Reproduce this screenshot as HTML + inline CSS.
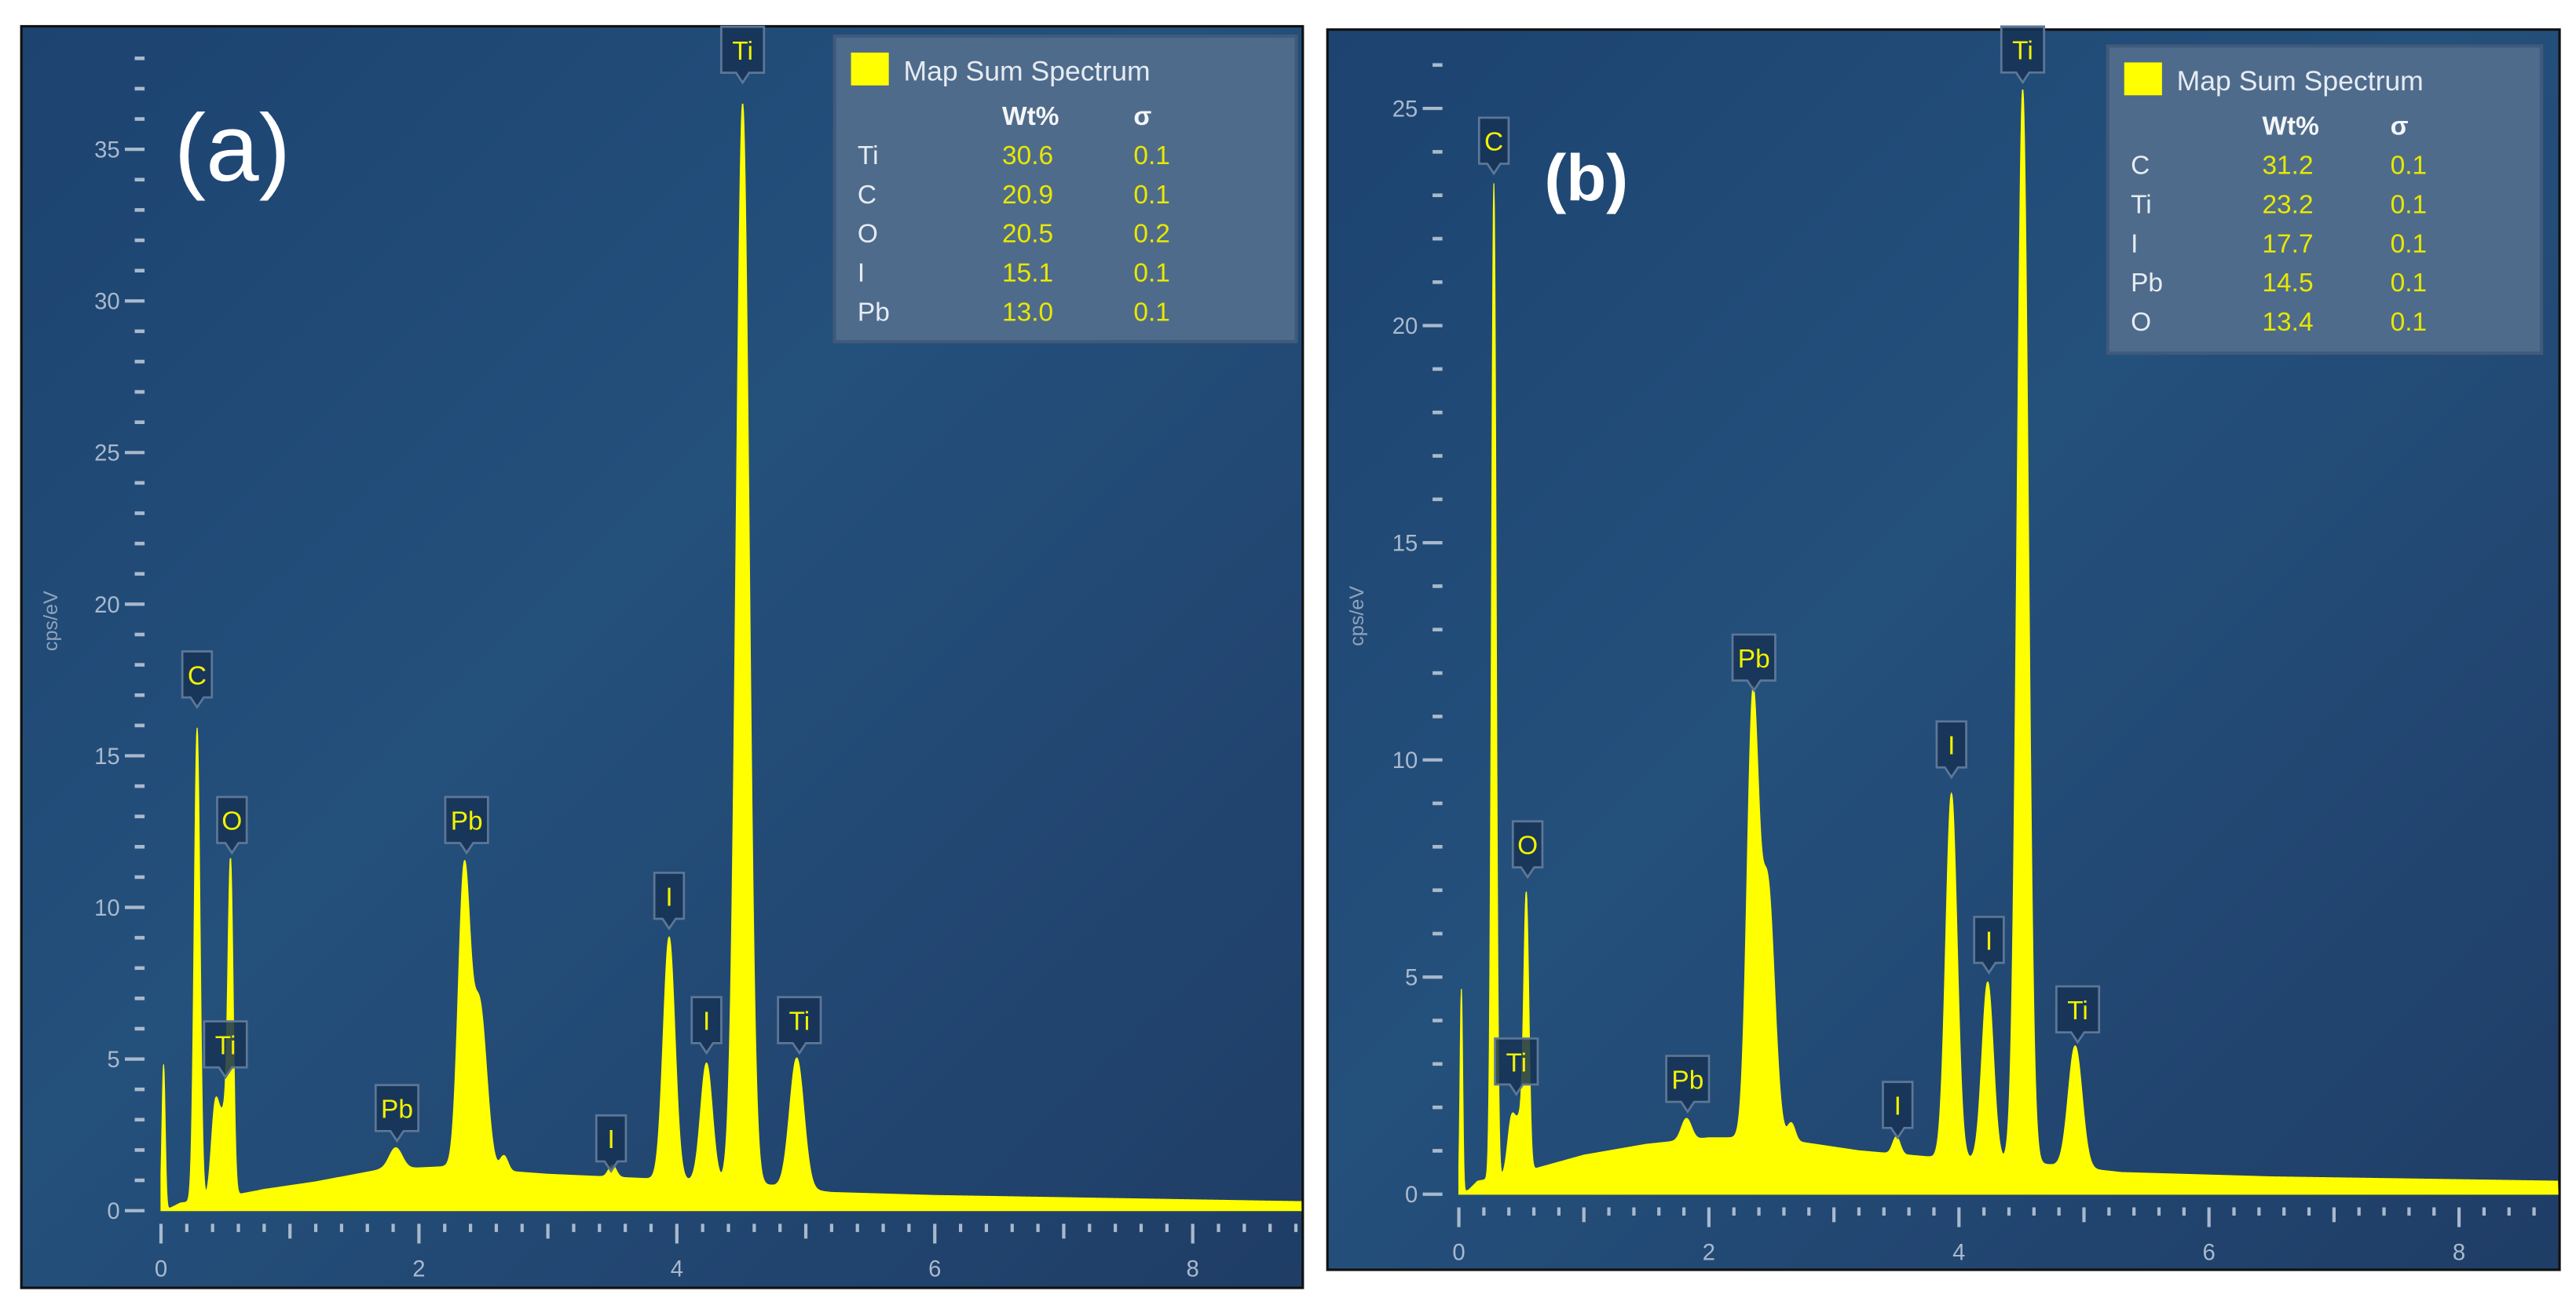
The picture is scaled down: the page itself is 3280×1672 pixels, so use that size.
<!DOCTYPE html>
<html><head><meta charset="utf-8"><style>
html,body{margin:0;padding:0;background:#fff;}
svg{display:block;font-family:"Liberation Sans",sans-serif;}
</style></head><body>
<svg id="fig" width="3280" height="1672" viewBox="0 0 1568 799.3" preserveAspectRatio="none" xmlns="http://www.w3.org/2000/svg">
<defs>
<linearGradient id="bgA" x1="0" y1="0" x2="1" y2="1"><stop offset="0" stop-color="#1d4370"/><stop offset="0.45" stop-color="#24507c"/><stop offset="1" stop-color="#1f3d66"/></linearGradient>
<linearGradient id="bgB" x1="0" y1="0" x2="1" y2="1"><stop offset="0" stop-color="#1d4370"/><stop offset="0.45" stop-color="#24507c"/><stop offset="1" stop-color="#1f3d66"/></linearGradient>
</defs>
<g id="panelA"></g>
<g id="panelB"></g>
</svg>
<script>
// ---------- Panel (a) data ----------
const peakEnergyA = [0.02, 0.28, 0.42, 0.49, 0.54, 1.82, 2.35, 2.47, 2.66, 3.50, 3.94, 4.23, 4.51, 4.93];
const peakHeightA = [4.8, 15.6, 2.9, 2.6, 10.2, 0.7, 9.6, 5.4, 0.5, 0.4, 8.0, 3.9, 35.6, 4.3];
const peakWidthA  = [0.012, 0.022, 0.03, 0.035, 0.02, 0.05, 0.045, 0.055, 0.03, 0.03, 0.045, 0.045, 0.05, 0.055];
const bgEnergyA = [0, 0.08, 0.15, 0.5, 0.8, 1.2, 1.7, 2.2, 3.0, 3.8, 4.6, 5.2, 6.0, 8.8];
const bgLevelA  = [0, 0.1, 0.25, 0.45, 0.7, 0.95, 1.35, 1.45, 1.2, 1.05, 0.9, 0.6, 0.5, 0.3];
const labelsA = [["C",0.28,16.6],["O",0.55,11.8],["Ti",0.50,4.4],["Pb",1.83,2.3],["Pb",2.37,11.8],["I",3.49,1.3],["I",3.94,9.3],["I",4.23,5.2],["Ti",4.51,37.2],["Ti",4.95,5.2]];
const yTicksA = [0,5,10,15,20,25,30,35];
const xTicksA = [0,2,4,6,8];
const legendA = [["Ti","30.6","0.1"],["C","20.9","0.1"],["O","20.5","0.2"],["I","15.1","0.1"],["Pb","13.0","0.1"]];
// ---------- Panel (b) data ----------
const peakEnergyB = [0.02, 0.28, 0.42, 0.49, 0.54, 1.82, 2.35, 2.47, 2.66, 3.50, 3.94, 4.23, 4.51, 4.93];
const peakHeightB = [4.7, 22.9, 1.2, 1.2, 6.0, 0.5, 9.8, 5.8, 0.4, 0.4, 8.4, 4.1, 24.7, 2.8];
const peakWidthB  = [0.01, 0.018, 0.03, 0.035, 0.02, 0.04, 0.045, 0.055, 0.03, 0.03, 0.045, 0.045, 0.045, 0.055];
const bgEnergyB = [0, 0.08, 0.15, 0.5, 1.0, 1.5, 2.0, 2.5, 3.2, 3.8, 4.5, 5.3, 6.5, 8.8];
const bgLevelB  = [0, 0.1, 0.3, 0.5, 0.9, 1.15, 1.3, 1.3, 1.0, 0.85, 0.75, 0.5, 0.4, 0.3];
const labelsB = [["C",0.28,23.5],["O",0.55,7.3],["Ti",0.46,2.3],["Pb",1.83,1.9],["Pb",2.36,11.6],["I",3.51,1.3],["I",3.94,9.6],["I",4.24,5.1],["Ti",4.51,25.6],["Ti",4.95,3.5]];
const yTicksB = [0,5,10,15,20,25];
const xTicksB = [0,2,4,6,8];
const legendB = [["C","31.2","0.1"],["Ti","23.2","0.1"],["I","17.7","0.1"],["Pb","14.5","0.1"],["O","13.4","0.1"]];

const NS="http://www.w3.org/2000/svg";
function mk(parent,tag,attrs,text){const e=document.createElementNS(NS,tag);for(const k in attrs)e.setAttribute(k,attrs[k]);if(text!==undefined)e.textContent=text;parent.appendChild(e);return e;}
function interp(xs,ys,x){if(x<=xs[0])return ys[0];for(let i=1;i<xs.length;i++){if(x<=xs[i]){const t=(x-xs[i-1])/(xs[i]-xs[i-1]);return ys[i-1]+t*(ys[i]-ys[i-1]);}}return ys[ys.length-1];}

function drawPanel(g,cfg){
  const sx=e=>cfg.x0+e*cfg.kx, sy=v=>cfg.y0-v*cfg.ky;
  const frame=mk(g,'rect',{x:cfg.fx,y:cfg.fy,width:cfg.fw,height:cfg.fh,fill:cfg.grad,stroke:'#111',"stroke-width":1.5});
  
  
  const xmax=(cfg.fx+cfg.fw-1-cfg.x0)/cfg.kx;
  let d='M'+sx(0)+','+sy(0);
  for(let e=0;e<=xmax;e+=0.004){
    let v=interp(cfg.bgE,cfg.bgL,e);
    for(let i=0;i<cfg.pE.length;i++){const z=(e-cfg.pE[i])/cfg.pW[i];v+=cfg.pH[i]*Math.exp(-0.5*z*z);}
    d+='L'+sx(e).toFixed(2)+','+sy(v).toFixed(2);
  }
  d+='L'+sx(xmax)+','+sy(0)+'Z';
  const sp=mk(g,'path',{d:d,fill:'#ffff00',stroke:'#ffff00',"stroke-width":0.6});
  
  
  const ymax=(cfg.y0-cfg.fy-6)/cfg.ky;
  for(let v=0;v<=ymax;v+=1){
    const major=(v%5===0);
    const t=mk(g,'line',{x1:major?cfg.x0-22:cfg.x0-16,x2:cfg.x0-10,y1:sy(v),y2:sy(v),stroke:'#a9b9cc',"stroke-width":major?2:2.2});
    
    
  }
  cfg.yT.forEach(v=>{
    const l=mk(g,'text',{x:cfg.x0-25,y:sy(v)+5,fill:'#a9b9cc',"font-size":14,"text-anchor":"end"},String(v));
    
    
  });
  const yt=mk(g,'text',{x:0,y:0,fill:'#8fa3ba',"font-size":12,"text-anchor":"middle",transform:`translate(${cfg.fx+22},${cfg.ytY}) rotate(-90)`},'cps/eV');
  
  
  for(let k=0;k*0.2<=xmax;k++){
    const e=k*0.2;const long=(k%10===0), mid=(k%5===0);
    const t=mk(g,'line',{x1:sx(e),x2:sx(e),y1:cfg.y0+8,y2:cfg.y0+(long?20:mid?17:13),stroke:'#a9b9cc',"stroke-width":2});
    
    
  }
  cfg.xT.forEach(v=>{
    const l=mk(g,'text',{x:sx(v),y:cfg.y0+40,fill:'#a9b9cc',"font-size":14,"text-anchor":"middle"},String(v));
    
    
  });
  cfg.labels.forEach(([txt,e,v])=>{
    const w=txt.length>1?26:18, h=28, cx=sx(e), by=sy(v)-6;
    const grp=mk(g,'g',{});
    
    
    mk(grp,'path',{d:`M${cx-w/2},${by-h} h${w} v${h} h${-(w/2-4)} l-4,6 l-4,-6 h${-(w/2-4)} Z`,fill:'rgba(22,50,85,0.85)',stroke:'#5d7796',"stroke-width":1.3});
    mk(grp,'text',{x:cx,y:by-8,fill:'#f2f200',"font-size":16,"text-anchor":"middle"},txt);
  });
  const L=cfg.leg;
  const lg=mk(g,'g',{});
  
  
  mk(lg,'rect',{x:L.x,y:L.y,width:L.w,height:L.h,fill:'#4f6b8b',stroke:'#3f5a7a',"stroke-width":2});
  mk(lg,'rect',{x:L.x+10,y:L.y+10,width:23,height:20,fill:'#ffff00'});
  mk(lg,'text',{x:L.x+42,y:L.y+27,fill:'#e6ecf3',"font-size":17},'Map Sum Spectrum');
  mk(lg,'text',{x:L.x+L.c1,y:L.y+54,fill:'#f4f6f9',"font-size":16,"font-weight":"bold"},'Wt%');
  mk(lg,'text',{x:L.x+L.c2,y:L.y+54,fill:'#f4f6f9',"font-size":16,"font-weight":"bold"},'σ');
  cfg.legRows.forEach((r,i)=>{
    const y=L.y+78+i*23.8;
    mk(lg,'text',{x:L.x+14,y:y,fill:'#e6ecf3',"font-size":16},r[0]);
    mk(lg,'text',{x:L.x+L.c1,y:y,fill:'#e8e800',"font-size":16},r[1]);
    mk(lg,'text',{x:L.x+L.c2,y:y,fill:'#e8e800',"font-size":16},r[2]);
  });
  const pl=mk(g,'text',{x:cfg.pl[0],y:cfg.pl[1],fill:'#ffffff',"font-size":cfg.pl[2],"font-weight":cfg.pl[3]},cfg.pl[4]);
  
  
}

drawPanel(document.getElementById('panelA'),{
  fx:13,fy:16,fw:780,fh:768,grad:'url(#bgA)',x0:98,kx:78.5,y0:737,ky:18.46,
  pE:peakEnergyA,pH:peakHeightA,pW:peakWidthA,bgE:bgEnergyA,bgL:bgLevelA,labels:labelsA,yT:yTicksA,xT:xTicksA,ytY:378,
  leg:{x:508,y:22,w:281,h:186,c1:102,c2:182},legRows:legendA,pl:[106,110,58,'normal','(a)']
});
drawPanel(document.getElementById('panelB'),{
  fx:808,fy:18,fw:750,fh:755,grad:'url(#bgB)',x0:888,kx:76.1,y0:727,ky:26.44,
  pE:peakEnergyB,pH:peakHeightB,pW:peakWidthB,bgE:bgEnergyB,bgL:bgLevelB,labels:labelsB,yT:yTicksB,xT:xTicksB,ytY:375,
  leg:{x:1283,y:28,w:264,h:187,c1:94,c2:172},legRows:legendB,pl:[940,122,40,'bold','(b)']
});
</script>
</body></html>
